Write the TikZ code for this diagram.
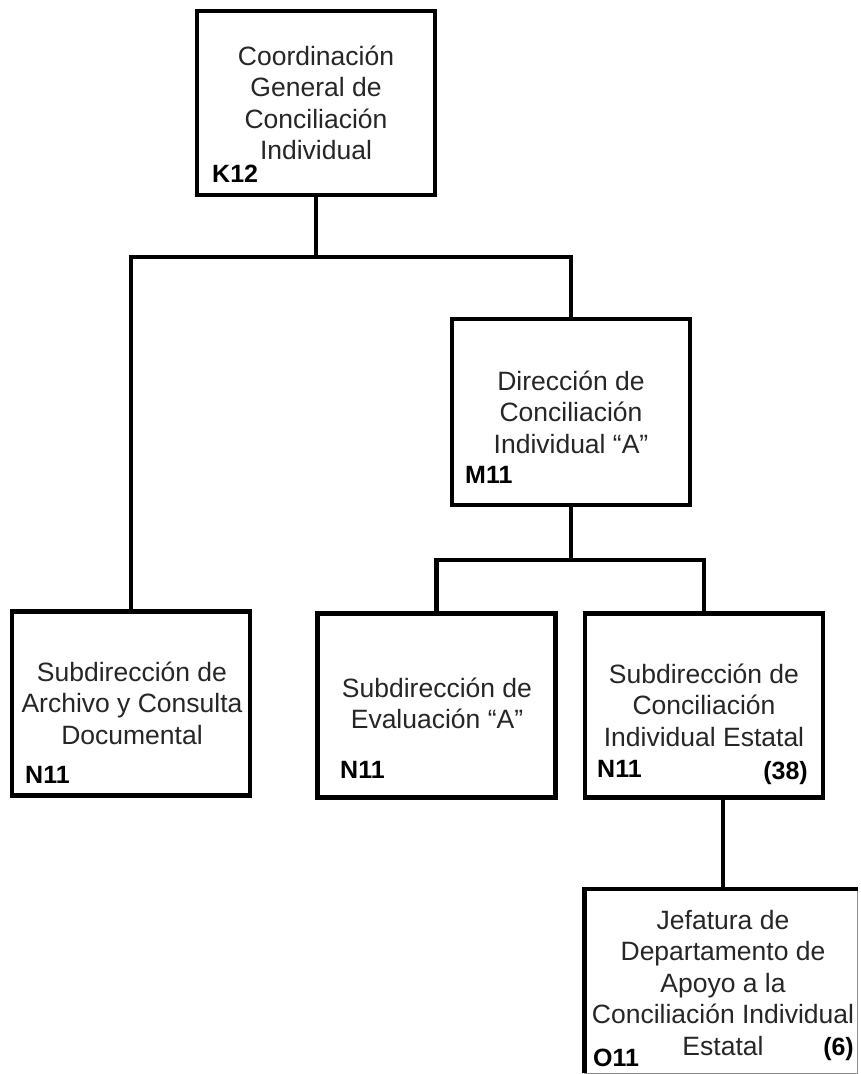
\documentclass[tikz,border=0pt]{standalone}
\usepackage{fontspec}
\setmainfont{Liberation Sans}
\begin{document}
\begin{tikzpicture}[x=1pt,y=-1pt]
\tikzset{
 orgbox/.style={draw=black, line width=4.5pt, inner sep=0pt, outer sep=0pt, minimum width=238pt, minimum height=184pt, fill=white},
 link/.style={line width=4.5pt, line join=miter},
 boxtext/.style={align=center, inner sep=0pt, anchor=north, text=black!85, font=\fontsize{26.5}{31.5}\selectfont},
 codelbl/.style={inner sep=0pt, font=\fontsize{25}{30}\selectfont\bfseries, text=black},
}
\useasboundingbox (0,0) rectangle (860,1074);
% boxes
\node[orgbox] (B1) at (316,103) {};
\node[orgbox, minimum height=186pt] (B2) at (571,412) {};
\node[orgbox] (B3) at (131,703.5) {};
\node[orgbox] (B4) at (436.5,705.5) {};
\node[orgbox] (B5) at (704,705.5) {};
\node[draw=black!45, line width=1pt, inner sep=0pt, outer sep=0pt, minimum width=273pt, minimum height=184pt] (B6) at (721,981) {};
\draw[link] (B6.south west) -- (B6.north west) -- (B6.north east);
% connectors
\coordinate (h1) at (0,257);
\coordinate (h2) at (0,560);
\coordinate (jx) at (723,0);
\draw[link] (B1.south) -- (B1.south |- h1);
\draw[link] (B3.north) |- (B2.north |- h1) -- (B2.north);
\draw[link] (B2.south) -- (B2.south |- h2);
\draw[link] (B4.north) |- (B5.north |- h2) -- (B5.north);
\draw[link] (B5.south -| jx) -- (B6.north -| jx);
% texts
\node[boxtext] (T1) at (316,42.8) {\strut Coordinación\\General de\\Conciliación\\Individual};
\node[boxtext] (T2) at (571,367.8) {\strut Dirección de\\Conciliación\\Individual “A”};
\node[boxtext] (T3) at (132,658.8) {\strut Subdirección de\\Archivo y Consulta\\Documental};
\node[boxtext] (T4) at (437,674.8) {\strut Subdirección de\\Evaluación “A”};
\node[boxtext] (T5) at (704,660.8) {\strut Subdirección de\\Conciliación\\Individual Estatal};
\node[boxtext] (T6) at (723,906.8) {\strut Jefatura de\\Departamento de\\Apoyo a la\\Conciliación Individual\\Estatal};
% codes
\node[codelbl, anchor=base west] (K1) at (212,182) {K12};
\node[codelbl, anchor=base west] (M1) at (465,483) {M11};
\node[codelbl, anchor=base west] (N1) at (25,783) {N11};
\node[codelbl, anchor=base west] (N2) at (340,778) {N11};
\node[codelbl, anchor=base west] (N3) at (597,777) {N11};
\node[codelbl, anchor=base east] (P1) at (808,779) {(38)};
\node[codelbl, anchor=base west] (O1) at (593,1066) {O11};
\node[codelbl, anchor=base east] (P2) at (854,1055) {(6)};
\end{tikzpicture}
\end{document}
